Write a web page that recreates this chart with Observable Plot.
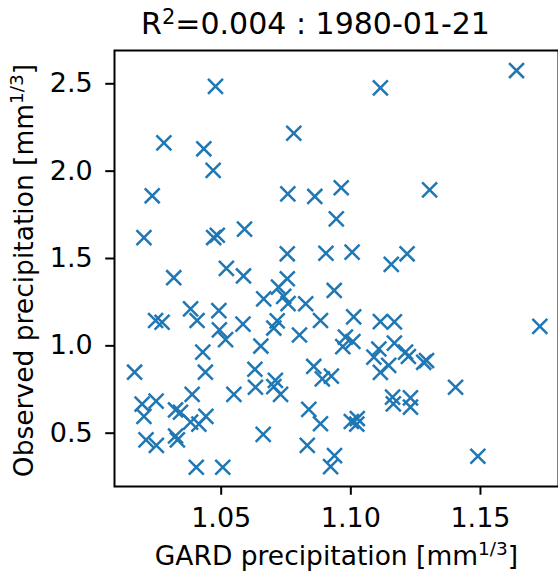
<!DOCTYPE html>
<html><head><meta charset="utf-8">
<script src="https://cdn.jsdelivr.net/npm/d3@7"></script>
<script src="https://cdn.jsdelivr.net/npm/@observablehq/plot@0.6"></script>
<style>html,body{margin:0;padding:0;background:#fff}</style>
</head><body><div id="chart"></div>
<script>
const title = "R^{2}=0.004 : 1980-01-21";
const xLabel = "GARD precipitation [mm^{1/3}]";
const yLabel = "Observed precipitation [mm^{1/3}]";
const xTicks = [1.05, 1.10, 1.15];
const yTicks = [0.5, 1.0, 1.5, 2.0, 2.5];

const gardPrecip = [
  1.0478, 1.0279, 1.0433, 1.0469, 1.0234, 1.0202, 1.0471, 1.0485, 1.0590, 1.0780,
  1.0757, 1.0861, 1.0944, 1.0755, 1.0904, 1.0520, 1.1639, 1.1114, 1.0963, 1.1304,
  1.1005, 1.1217, 1.1156, 1.0317, 1.0586, 1.0755, 1.0721, 1.0664, 1.0741, 1.0758,
  1.0826, 1.0936, 1.0883, 1.0247, 1.0272, 1.0382, 1.0407, 1.0491, 1.0493, 1.0517,
  1.0584, 1.0716, 1.0703, 1.0802, 1.0653, 1.0429, 1.0439, 1.0166, 1.0630, 1.0632,
  1.0709, 1.0703, 1.0729, 1.0549, 1.0857, 1.0890, 1.0195, 1.0202, 1.0249, 1.0388,
  1.0324, 1.0343, 1.0382, 1.0414, 1.0441, 1.0838, 1.0883, 1.0210, 1.0250, 1.0324,
  1.0331, 1.0662, 1.0832, 1.0404, 1.0506, 1.0922, 1.0937, 1.1490, 1.1011, 1.1114,
  1.1168, 1.0979, 1.1008, 1.0969, 1.1108, 1.1089, 1.1168, 1.1211, 1.1222, 1.1146,
  1.1114, 1.1292, 1.1281, 1.1404, 1.1729, 1.0925, 1.1161, 1.1164, 1.1230, 1.1230,
  1.1002, 1.1025, 1.1023
];
const obsPrecip = [
  2.485, 2.162, 2.128, 2.004, 1.859, 1.619, 1.620, 1.633, 1.668, 2.217,
  1.870, 1.855, 1.727, 1.527, 1.530, 1.443, 2.576, 2.477, 1.905, 1.893,
  1.536, 1.527, 1.466, 1.390, 1.400, 1.384, 1.336, 1.269, 1.283, 1.242,
  1.241, 1.317, 1.145, 1.145, 1.135, 1.212, 1.145, 1.202, 1.091, 1.036,
  1.124, 1.143, 1.102, 1.062, 0.999, 0.964, 0.849, 0.849, 0.866, 0.763,
  0.802, 0.767, 0.722, 0.722, 0.882, 0.811, 0.667, 0.596, 0.684, 0.722,
  0.633, 0.620, 0.563, 0.552, 0.596, 0.636, 0.554, 0.462, 0.430, 0.484,
  0.462, 0.493, 0.430, 0.305, 0.305, 0.309, 0.372, 0.368, 1.166, 1.139,
  1.137, 1.050, 1.025, 0.996, 0.982, 0.935, 1.016, 0.964, 0.939, 0.888,
  0.848, 0.916, 0.906, 0.763, 1.111, 0.827, 0.706, 0.668, 0.702, 0.649,
  0.567, 0.584, 0.552
];

const data = gardPrecip.map((g, i) => ({gard: g, obs: obsPrecip[i]}));

const chart = Plot.plot({
  width: 558, height: 582,
  marginLeft: 114, marginRight: 0, marginTop: 50, marginBottom: 96,
  style: {fontFamily: "DejaVu Sans", fontSize: "26px", color: "black", background: "white"},
  x: {domain: [1.00885, 1.1801]},
  y: {domain: [0.1949, 2.6906]},
  marks: [
    Plot.dot(data, {x: "gard", y: "obs", symbol: "times", r: 6.85, stroke: "#1f77b4", strokeWidth: 2.5}),
    Plot.frame({stroke: "black", strokeWidth: 2}),
    Plot.axisX({ticks: xTicks, tickFormat: d => d.toFixed(2), tickSize: 8.75, tickPadding: 12.5, strokeWidth: 2, label: null, fontSize: 27}),
    Plot.axisY({ticks: yTicks, tickFormat: d => d.toFixed(1), tickSize: 8.75, tickPadding: 13, strokeWidth: 2, label: null, fontSize: 27}),
    Plot.text([xLabel], {text: d => d, frameAnchor: "bottom", dy: 70, fontSize: 26.5, fill: "black", textAnchor: "middle", lineAnchor: "middle"}),
    Plot.text([yLabel], {text: d => d, frameAnchor: "left", dx: -90, dy: 2, rotate: -90, fontSize: 26.5, fill: "black", textAnchor: "middle", lineAnchor: "middle"}),
    Plot.text([title], {text: d => d, frameAnchor: "top-left", dx: 201, dy: -26.6, fontSize: 30, fill: "black", textAnchor: "middle", lineAnchor: "middle"})
  ]
});
document.getElementById("chart").appendChild(chart);

// superscripts kept as real text
const ns = "http://www.w3.org/2000/svg";
chart.querySelectorAll("text").forEach(t => {
  const s = t.textContent;
  if (!s.includes("^{")) return;
  const big = s === title;
  const shift = 10;
  const parts = s.split(/\^\{([^}]*)\}/);
  t.textContent = "";
  let prevSup = false;
  parts.forEach((p, i) => {
    if (!p) return;
    const ts = document.createElementNS(ns, "tspan");
    ts.textContent = p;
    if (i % 2 === 1) {
      ts.setAttribute("dy", -shift);
      ts.setAttribute("font-size", big ? 21 : 18.5);
      prevSup = true;
    } else if (prevSup) {
      ts.setAttribute("dy", shift);
      prevSup = false;
    }
    t.appendChild(ts);
  });
});
</script>
</body></html>
